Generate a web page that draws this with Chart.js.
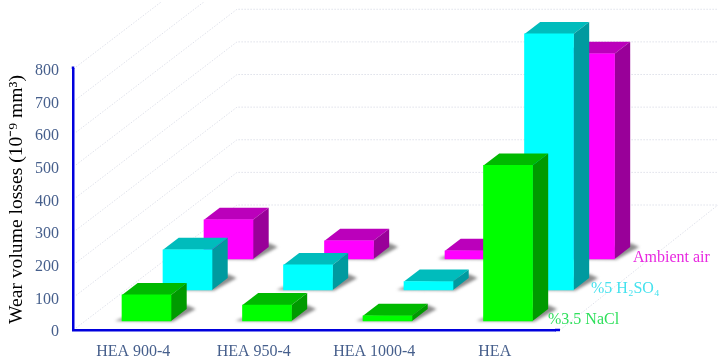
<!DOCTYPE html>
<html>
<head>
<meta charset="utf-8">
<style>html,body{margin:0;padding:0;background:#fff}canvas{display:block}</style>
<script src="https://cdn.jsdelivr.net/npm/chart.js@4"></script>
</head>
<body>
<canvas id="c" width="724" height="364"></canvas>
<script>
const categories = ["HEA 900-4", "HEA 950-4", "HEA 1000-4", "HEA"];
const naclValues = [80, 49, 16, 477];
const h2so4Values = [123, 77, 26, 785];
const airValues = [120, 56, 25, 629];
const seriesNames = ["%3.5 NaCl", "%5 H\u2082SO\u2084", "Ambient air"];
const yTitle = "Wear volume losses (10\u207B\u2079 mm\u00B3)";
const FONT = '"Liberation Serif", "Times New Roman", serif';
const rows = [
  {dx: 13.25, dy: -9,  labelDx: 15.5, front: "#00ff00", top: "#00b900", side: "#009a00", text: "#2fe05c"},
  {dx: 54.25, dy: -40, labelDx: 17.5, front: "#00ffff", top: "#00bcbc", side: "#009a9f", text: "#45e2ee"},
  {dx: 95.25, dy: -71, labelDx: 18.5, front: "#ff00ff", top: "#bb00bb", side: "#990099", text: "#e828e0"}
];
const DEPTH_X = 15.7, DEPTH_Y = 12;
const WALL_X = 164, WALL_Y = 125, BACK_RIGHT = 718;

function poly(ctx, pts, fill) {
  ctx.beginPath();
  pts.forEach((p, i) => i ? ctx.lineTo(p[0], p[1]) : ctx.moveTo(p[0], p[1]));
  ctx.closePath();
  ctx.fillStyle = fill;
  ctx.fill();
}

const walls = {
  id: "walls",
  afterLayout(chart) {
    const s = chart.scales.y;
    s.drawLabels = function (area) {
      const c = this.ctx;
      c.save();
      c.translate(0, 2);
      Chart.Scale.prototype.drawLabels.call(this, area);
      c.restore();
    };
    const sx = chart.scales.x;
    sx.drawLabels = function (area) {
      const c = this.ctx;
      c.save();
      c.translate(0, -4.5);
      Chart.Scale.prototype.drawLabels.call(this, area);
      c.restore();
    };
  },
  beforeDatasetsDraw(chart) {
    const {ctx, scales: {x, y}} = chart;
    const L = x.left;
    ctx.save();
    ctx.beginPath();
    ctx.rect(0, 2, 724, 362);
    ctx.clip();
    ctx.lineWidth = 1;
    ctx.setLineDash([1.5, 1.5]);
    y.ticks.forEach(t => {
      const py = y.getPixelForValue(t.value);
      ctx.strokeStyle = "#dfe1ea";
      ctx.beginPath();
      ctx.moveTo(L + 3, py - 2);
      ctx.lineTo(L + WALL_X, py - WALL_Y);
      ctx.lineTo(BACK_RIGHT, py - WALL_Y);
      ctx.stroke();
    });
    const p0 = y.getPixelForValue(0);
    ctx.beginPath();
    ctx.moveTo(x.right + 5, p0);
    ctx.lineTo(BACK_RIGHT, p0 - WALL_Y);
    ctx.stroke();
    ctx.restore();
  },
  beforeDatasetDraw(chart, args) {
    const {ctx} = chart;
    const r = rows[args.index];
    ctx.save();
    ctx.translate(r.dx, r.dy);
    args.meta.data.forEach(el => {
      const l = el.x - el.width / 2, R = el.x + el.width / 2, t = el.y, b = el.base;
      ctx.save();
      ctx.filter = "blur(1.5px)";
      poly(ctx, [[l - 7, b], [R + 2, b + 0.5], [R + DEPTH_X + 9, b - DEPTH_Y], [R + DEPTH_X, b - DEPTH_Y - 4], [l, b - 3]], "rgba(80,80,80,0.65)");
      ctx.restore();
      poly(ctx, [[l, t], [l + DEPTH_X, t - DEPTH_Y], [R + DEPTH_X, t - DEPTH_Y], [R, t]], r.top);
      poly(ctx, [[R, t], [R + DEPTH_X, t - DEPTH_Y], [R + DEPTH_X, b - DEPTH_Y], [R, b]], r.side);
    });
  },
  afterDatasetDraw(chart) {
    chart.ctx.restore();
  },
  afterDatasetsDraw(chart) {
    const {ctx, scales: {x, y}} = chart;
    ctx.save();
    ctx.strokeStyle = "#0000dd";
    ctx.lineWidth = 2.5;
    ctx.beginPath();
    ctx.moveTo(x.left, y.top - 2.5);
    ctx.lineTo(x.left, y.top);
    ctx.moveTo(x.right, y.bottom);
    ctx.lineTo(x.right + 5, y.bottom);
    ctx.stroke();
    ctx.font = "16px " + FONT;
    ctx.textBaseline = "middle";
    ctx.textAlign = "left";
    chart.data.datasets.forEach((ds, i) => {
      const el = chart.getDatasetMeta(i).data[categories.length - 1];
      ctx.fillStyle = rows[i].text;
      ctx.fillText(ds.label, el.x + el.width / 2 + rows[i].dx + rows[i].labelDx, el.base + rows[i].dy - 1.5);
    });
    ctx.restore();
  }
};

new Chart(document.getElementById("c"), {
  type: "bar",
  data: {
    labels: categories,
    datasets: [naclValues, h2so4Values, airValues].map((data, i) => ({
      label: seriesNames[i],
      data,
      backgroundColor: rows[i].front,
      borderWidth: 0,
      barThickness: 49,
      grouped: false,
      clip: false
    }))
  },
  options: {
    responsive: false,
    animation: false,
    layout: {padding: {top: 69, right: 169, left: 0, bottom: 0}},
    plugins: {legend: {display: false}, tooltip: {enabled: false}},
    scales: {
      x: {
        grid: {display: false},
        border: {color: "#0000dd", width: 2.5},
        ticks: {color: "#465f8c", font: {family: FONT, size: 16}, padding: 9, maxRotation: 0},
        afterFit(s) { s.height = 34; }
      },
      y: {
        min: 0, max: 800,
        grid: {display: false, drawTicks: false},
        border: {color: "#0000dd", width: 2.5},
        ticks: {stepSize: 100, color: "#465f8c", font: {family: FONT, size: 16}, padding: 14},
        title: {display: true, text: yTitle, color: "#000", font: {family: FONT, size: 19.6}, padding: {top: 5, bottom: 0}},
        afterFit(s) { s.width = 73; }
      }
    }
  },
  plugins: [walls]
});
</script>
</body>
</html>
